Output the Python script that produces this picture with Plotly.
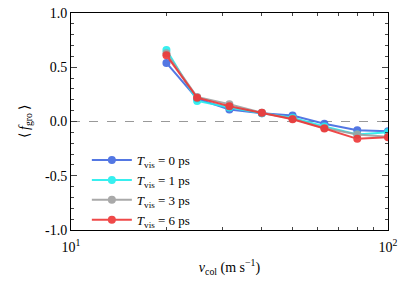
import plotly.graph_objects as go

v_col = [20, 25, 31.6, 40, 50, 63, 80, 100]
f_t0 = [0.54, 0.21, 0.11, 0.077, 0.056, -0.02, -0.08, -0.09]
f_t1 = [0.66, 0.19, 0.13, 0.077, 0.035, -0.045, -0.12, -0.10]
f_t3 = [0.63, 0.225, 0.16, 0.08, 0.025, -0.06, -0.12, -0.14]
f_t6 = [0.61, 0.22, 0.14, 0.08, 0.02, -0.065, -0.16, -0.145]
labels = ["0", "1", "3", "6"]
colors = ["#4169E1", "#22EEEE", "#A0A0A0", "#EE3636"]
series = [f_t0, f_t1, f_t3, f_t6]

fig = go.Figure()
for lab, col, ys in zip(labels, colors, series):
    fig.add_trace(go.Scatter(
        x=v_col, y=ys, mode="lines+markers",
        name=f"<i>T</i><sub>vis</sub> = {lab} ps",
        line=dict(color=col, width=2),
        marker=dict(color=col, size=8),
        opacity=0.9,
    ))

fig.add_hline(y=0, line=dict(color="#999999", width=1, dash="dash"), layer="below")

font = "Liberation Serif"
fig.update_layout(
    width=415, height=290,
    margin=dict(l=71, r=27, t=13, b=60, autoexpand=False),
    paper_bgcolor="white", plot_bgcolor="white",
    font=dict(family=font, size=14, color="black"),
    showlegend=True,
    legend=dict(x=0.05, y=0.184, xanchor="left", yanchor="middle",
                bgcolor="rgba(0,0,0,0)", font=dict(size=13), tracegroupgap=0,
                itemwidth=40),
    xaxis=dict(type="log", range=[1, 2], tickvals=[10, 100],
               ticktext=["10<sup>1</sup>", "10<sup>2</sup>"],
               ticks="inside", ticklen=6, showline=True, linecolor="black",
               linewidth=1, mirror="ticks", showgrid=False, zeroline=False,
               automargin=False, ticklabelstandoff=4,
               minor=dict(tickvals=[20, 30, 40, 50, 60, 70, 80, 90],
                          ticks="inside", ticklen=3, showgrid=False),
               title=dict(text="<i>v</i><sub>col</sub> (m s<sup>−1</sup>)",
                          font=dict(size=14), standoff=8)),
    yaxis=dict(range=[-1, 1], tickvals=[-1, -0.5, 0, 0.5, 1],
               ticktext=["-1.0", "-0.5", "0.0", "0.5", "1.0"],
               ticks="inside", ticklen=6, showline=True, linecolor="black",
               linewidth=1, mirror="ticks", showgrid=False, zeroline=False,
               automargin=False,
               minor=dict(dtick=0.1, ticks="inside", ticklen=3, showgrid=False),
               title=dict(text="⟨ <i>f</i><sub>gro</sub> ⟩", font=dict(size=14),
                          standoff=12)),
)

fig.write_html("out.html", config={"displayModeBar": False},
               post_script="document.body.style.margin='0';")
